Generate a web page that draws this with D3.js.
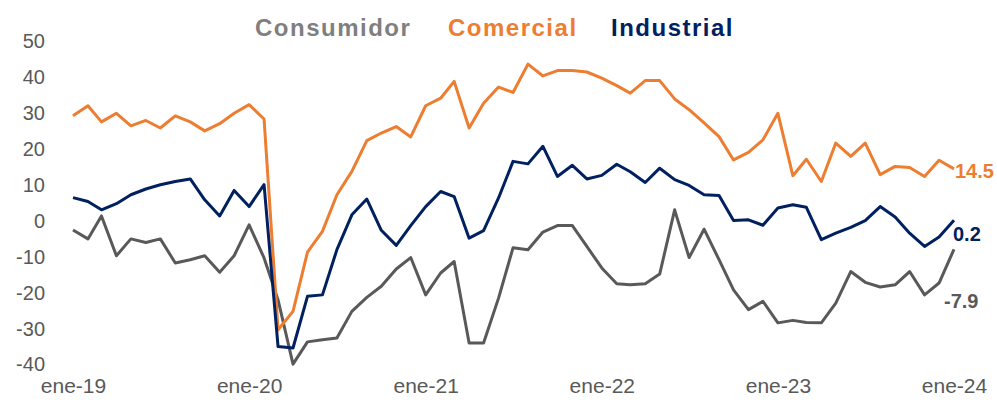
<!DOCTYPE html>
<html>
<head>
<meta charset="utf-8">
<script src="https://d3js.org/d3.v7.min.js"></script>
<style>
  body { margin: 0; background: #fff; }
  svg { font-family: "Liberation Sans", Arial, sans-serif; }
</style>
</head>
<body>
<div id="chart"></div>
<script>
// monthly data, ene-19 .. ene-24
const months = d3.range(61).map(i => new Date(2019, i, 1));
const consumidor = [-2.5, -5.0, 1.4, -9.7, -5.0, -6.0, -5.0, -11.7, -10.8, -9.7, -14.3, -9.7,
  -1.1, -10.3, -22.0, -39.9, -33.7, -33.1, -32.6, -25.2, -21.3, -18.2, -13.4, -10.2,
  -20.6, -14.5, -11.3, -34.0, -34.0, -21.5, -7.5, -8.0, -3.1, -1.3, -1.3, -7.1,
  -13.1, -17.5, -17.8, -17.5, -14.8, 3.1, -10.2, -2.3, -10.8, -19.2, -24.7, -22.4,
  -28.4, -27.7, -28.3, -28.4, -22.9, -14.1, -17.1, -18.4, -17.8, -14.1, -20.6, -17.3,
  -7.9];
const comercial = [29.3, 32.1, 27.6, 30.0, 26.5, 28.0, 25.9, 29.3, 27.6, 25.1, 27.1, 30.0,
  32.4, 28.4, -30.3, -25.2, -8.7, -2.9, 7.3, 13.8, 22.4, 24.5, 26.3, 23.4,
  32.1, 34.2, 38.9, 25.9, 32.8, 37.3, 35.8, 43.7, 40.4, 41.9, 41.9, 41.5,
  39.8, 37.7, 35.6, 39.1, 39.1, 34.0, 31.0, 27.3, 23.5, 17.0, 19.1, 22.6,
  30.0, 12.6, 17.2, 11.0, 21.7, 18.0, 21.7, 12.9, 15.2, 14.9, 12.4, 16.9,
  14.5];
const industrial = [6.5, 5.4, 3.1, 4.8, 7.3, 8.9, 10.1, 11.0, 11.7, 5.9, 1.4, 8.5,
  4.0, 10.1, -35.0, -35.4, -21.0, -20.6, -8.0, 1.7, 6.1, -2.6, -6.8, -1.3,
  4.0, 8.2, 6.8, -4.8, -2.7, 6.4, 16.6, 15.9, 20.8, 12.4, 15.5, 11.7,
  12.7, 15.8, 13.7, 10.7, 14.7, 11.5, 9.9, 7.3, 7.1, 0.1, 0.3, -1.2,
  3.6, 4.5, 3.8, -5.2, -3.4, -1.8, 0.1, 4.0, 1.1, -3.4, -7.1, -4.5,
  0.2];
const yTicks = [-40, -30, -20, -10, 0, 10, 20, 30, 40, 50];
const xTickLabels = ["ene-19", "ene-20", "ene-21", "ene-22", "ene-23", "ene-24"];

const series = [
  { name: "Consumidor", values: consumidor, color: "#595959", legendColor: "#7f7f7f" },
  { name: "Comercial", values: comercial, color: "#ED7D31", legendColor: "#ED7D31" },
  { name: "Industrial", values: industrial, color: "#002060", legendColor: "#002060" }
];

const width = 997, height = 400;
const svg = d3.select("#chart").append("svg")
  .attr("width", width)
  .attr("height", height);

const x = d3.scaleTime()
  .domain([months[0], months[60]])
  .range([73, 954]);
const y = d3.scaleLinear()
  .domain([-40, 50])
  .range([364.5, 41.5]);

// plain hyphen for negatives, like the original
const fmtNum = d => String(d);

// y axis labels, no line
const yAxis = svg.append("g")
  .attr("transform", "translate(45,0)")
  .call(d3.axisLeft(y).tickValues(yTicks).tickSize(0).tickPadding(0).tickFormat(fmtNum));
yAxis.select(".domain").remove();
yAxis.selectAll("text")
  .attr("fill", "#595959")
  .style("font-size", "20px");

// x axis labels, yearly
const xAxis = svg.append("g")
  .attr("transform", "translate(0,378)")
  .call(d3.axisBottom(x)
    .tickValues(months.filter((d, i) => i % 12 === 0))
    .tickSize(0).tickPadding(0)
    .tickFormat((d, i) => xTickLabels[i]));
xAxis.select(".domain").remove();
xAxis.selectAll("text")
  .attr("fill", "#595959")
  .attr("dy", "0.7em")
  .style("font-size", "21px");

const line = d3.line()
  .x((d, i) => x(months[i]))
  .y(d => y(d));

svg.selectAll(".series")
  .data(series)
  .enter().append("path")
    .attr("class", "series")
    .attr("fill", "none")
    .attr("stroke", d => d.color)
    .attr("stroke-width", 3)
    .attr("stroke-linejoin", "round")
    .attr("d", d => line(d.values));

// legend along the top
const legendX = [255, 448, 611];
svg.selectAll(".legend")
  .data(series)
  .enter().append("text")
    .attr("class", "legend")
    .attr("x", (d, i) => legendX[i])
    .attr("y", 36)
    .attr("fill", d => d.legendColor)
    .style("font-size", "24px")
    .style("letter-spacing", "1.5px")
    .style("font-weight", "bold")
    .text(d => d.name);

// end value labels
const endOffsets = [{ dx: -10, dy: 59 }, { dx: 1, dy: 9.5 }, { dx: -1, dy: 20.5 }];
svg.selectAll(".endlabel")
  .data(series)
  .enter().append("text")
    .attr("class", "endlabel")
    .attr("x", (d, i) => x(months[60]) + endOffsets[i].dx)
    .attr("y", (d, i) => y(d.values[60]) + endOffsets[i].dy)
    .attr("fill", d => d.color)
    .style("font-size", "20px")
    .style("font-weight", "bold")
    .text(d => d.values[60].toFixed(1));
</script>
</body>
</html>
